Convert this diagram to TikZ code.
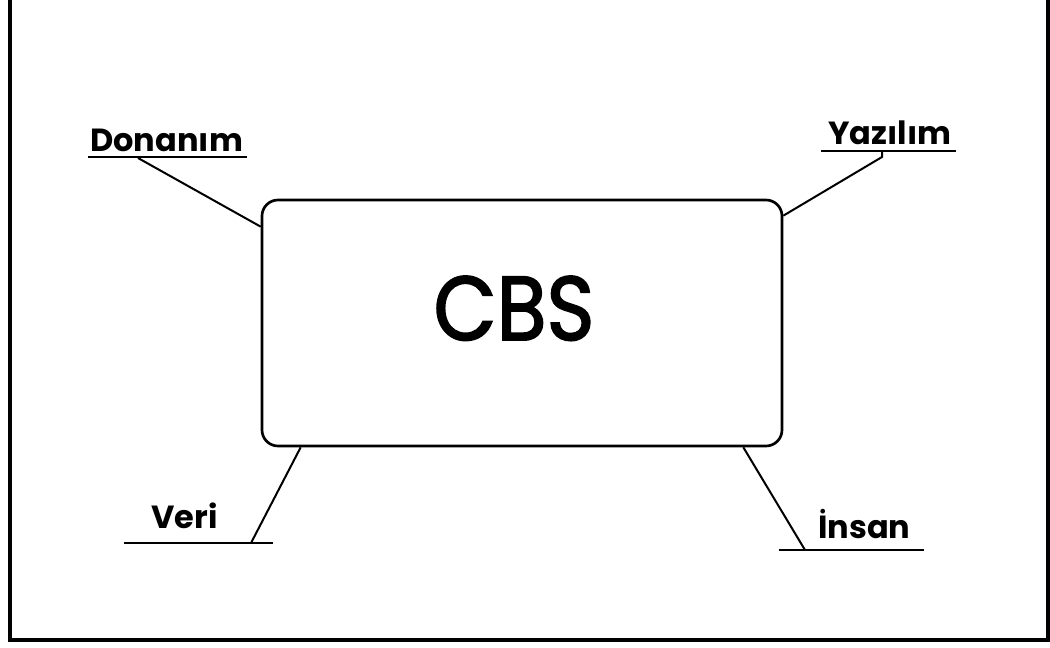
\documentclass[tikz,border=0pt]{standalone}
\usepackage{fontspec}
\setmainfont{Poppins}
\usetikzlibrary{calc}
\begin{document}
\begin{tikzpicture}[x=0.75pt,y=-0.75pt,
  lbl/.style={anchor=base west,inner sep=0pt,font=\bfseries\fontsize{24}{29}\selectfont},
  uline/.style={line width=2.2pt},
  conn/.style={line width=1.5pt},
  frame/.style={line width=2.3pt}]
\useasboundingbox (0,0) rectangle (1050,648);
\begin{scope}
\clip (0,0) rectangle (1050,648);
\draw[frame] (10,-20) rectangle (1048,640);
\end{scope}
% central box
\node[draw,line width=2pt,rounded corners=12pt,minimum width=390pt,minimum height=184.5pt,inner sep=0pt] (box) at (522,323) {};
\node[anchor=base,inner sep=0pt,xscale=0.9,font=\fontsize{68}{80}\selectfont\addfontfeature{FakeBold=2}] (cbs) at (514,340) {CBS};
% labels
\node[lbl] (don) at (90,152) {Donanım};
\node[lbl] (yaz) at (828,145) {Yazılım};
\node[lbl] (ver) at (151,528) {Veri};
\node[lbl] (ins) at (818,538) {İnsan};
% underline ends and connector points
\coordinate (d1) at (88,157); \coordinate (d2) at (247,157); \coordinate (dc) at (138,158);
\coordinate (y1) at (821,151); \coordinate (y2) at (956,151); \coordinate (yc) at (882,151); \coordinate (yk) at (882,157);
\coordinate (v1) at (124,543); \coordinate (v2) at (273,543); \coordinate (vc) at (251,543);
\coordinate (i1) at (779,550); \coordinate (i2) at (924,550); \coordinate (ic) at (805,550);
\draw[uline] (d1) -- (d2);
\draw[uline] (y1) -- (y2);
\draw[uline] (v1) -- (v2);
\draw[uline] (i1) -- (i2);
\draw[conn] (dc) -- ($(box.north west)+(0,28)$);
\draw[conn] (yc) -- (yk) -- ($(box.north east)+(0,17)$);
\draw[conn] (vc) -- ($(box.south west)+(40,0)$);
\draw[conn] (ic) -- ($(box.south east)+(-40,0)$);
\end{tikzpicture}
\end{document}
